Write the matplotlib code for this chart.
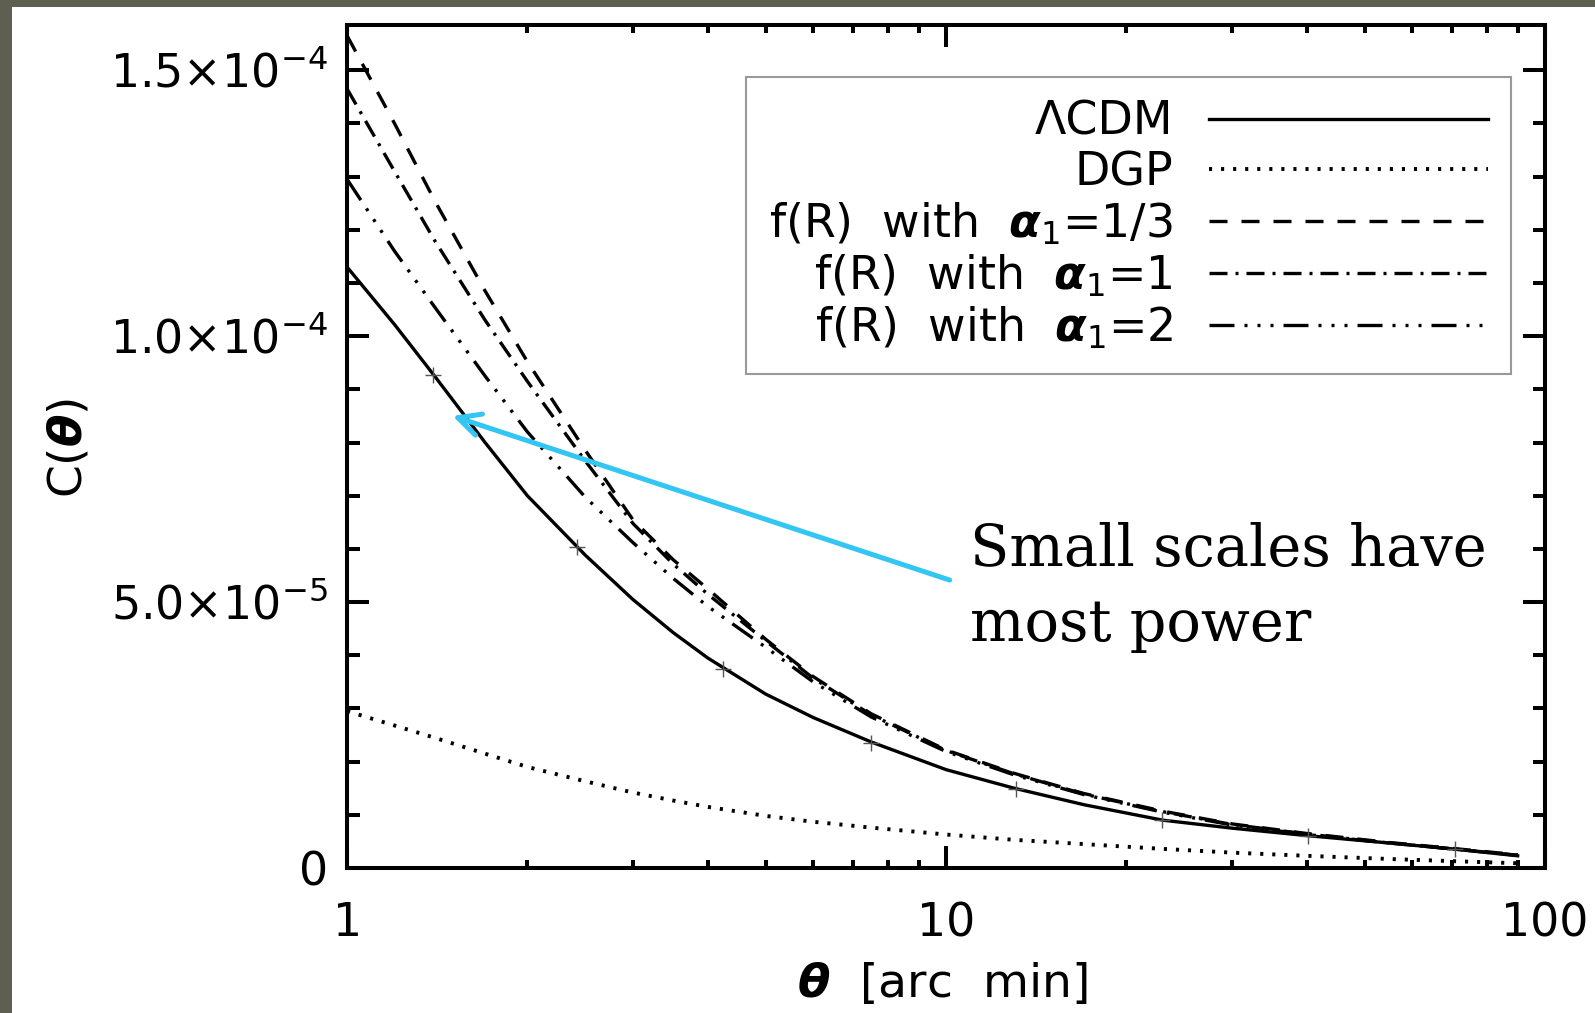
"""------------------------------------------------------------------------------------------------------------
Funcion de correlacion C(theta): LCDM, DGP y f(R)
------------------------------------------------------------------------------------------------------------"""
# Import ------------------------------------------------------------------------------------------------------
import numpy as np
import matplotlib
matplotlib.use("Agg")
import matplotlib.pyplot as plt
from matplotlib.patches import Rectangle
from matplotlib.ticker import MultipleLocator, LogLocator, NullFormatter

# Datos (C en unidades de 1e-4) -------------------------------------------------------------------------------
theta = [1, 1.2, 1.4, 1.7, 2, 2.5, 3, 3.5, 4, 5, 6, 7.5, 10, 13, 17, 23, 30, 40, 55, 70, 90]
c_lcdm = [1.130, 1.022, 0.925, 0.800, 0.700, 0.588, 0.505, 0.443, 0.395, 0.327, 0.283, 0.237,
          0.185, 0.150, 0.119, 0.090, 0.075, 0.061, 0.047, 0.036, 0.023]
c_dgp = [0.295, 0.268, 0.245, 0.215, 0.190, 0.163, 0.142, 0.127, 0.115, 0.098, 0.087, 0.076,
         0.063, 0.053, 0.045, 0.036, 0.029, 0.023, 0.017, 0.013, 0.009]
c_fr13 = [1.565, 1.400, 1.255, 1.085, 0.952, 0.785, 0.655, 0.580, 0.525, 0.430, 0.360, 0.290,
          0.222, 0.178, 0.140, 0.107, 0.083, 0.065, 0.048, 0.037, 0.025]
c_fr1 = [1.465, 1.310, 1.180, 1.030, 0.915, 0.765, 0.648, 0.572, 0.515, 0.427, 0.357, 0.288,
         0.221, 0.177, 0.139, 0.106, 0.082, 0.064, 0.047, 0.036, 0.024]
c_fr2 = [1.295, 1.160, 1.055, 0.925, 0.820, 0.697, 0.612, 0.545, 0.492, 0.415, 0.350, 0.284,
         0.219, 0.175, 0.138, 0.105, 0.081, 0.063, 0.047, 0.036, 0.024]
# puntos '+' sobre LCDM
theta_pts = [1.39, 2.42, 4.24, 7.49, 13.1, 22.9, 40.2, 70.8]
c_pts = [0.927, 0.604, 0.375, 0.235, 0.149, 0.090, 0.061, 0.036]

labels = ['ΛCDM', 'DGP',
          r'f(R)  with  $\mathbf{\alpha}_1$=1/3',
          r'f(R)  with  $\mathbf{\alpha}_1$=1',
          r'f(R)  with  $\mathbf{\alpha}_1$=2']
ytick_vals = [0, 5e-5, 1e-4, 1.5e-4]
ytick_labels = ['0', r'$5.0{\times}10^{-5}$', r'$1.0{\times}10^{-4}$', r'$1.5{\times}10^{-4}$']
xtick_vals = [1, 10, 100]
xtick_labels = ['1', '10', '100']

# Estilo ------------------------------------------------------------------------------------------------------
plt.rcParams['font.family'] = ['DejaVu Sans']
plt.rcParams['mathtext.fontset'] = 'custom'
plt.rcParams['mathtext.rm'] = 'DejaVu Sans'
plt.rcParams['mathtext.it'] = 'DejaVu Sans:italic'
plt.rcParams['mathtext.bf'] = 'DejaVu Sans:bold:italic'

LW = 2.4
LW_EJE = 2.9


def main():
    fig = plt.figure(figsize=(15.95, 10.13), dpi=100)
    fig.patch.set_facecolor('#5e5f50')
    fig.add_artist(Rectangle((12 / 1595, 0), 1, 1 - 7 / 1013, transform=fig.transFigure,
                             facecolor='white', edgecolor='none', zorder=-5))
    ax = fig.add_axes([0.2176, 0.1431, 0.7511, 0.8322])

    th = np.array(theta)
    escala = 1e-4
    l1, = ax.plot(th, np.array(c_lcdm) * escala, color='black', lw=LW, ls='-')
    l2, = ax.plot(th, np.array(c_dgp) * escala, color='black', lw=2.8, ls=(0, (0.8, 2.3)))
    l3, = ax.plot(th, np.array(c_fr13) * escala, color='black', lw=LW, ls=(0, (5.4, 4.2)))
    l4, = ax.plot(th, np.array(c_fr1) * escala, color='black', lw=LW, ls=(0, (5.4, 2.4, 0.9, 2.4)))
    l5, = ax.plot(th, np.array(c_fr2) * escala, color='black', lw=LW,
                  ls=(0, (7.5, 3, 0.9, 3, 0.9, 3, 0.9, 3)))
    ax.plot(theta_pts, np.array(c_pts) * escala, ls='none', marker='+', ms=11, mew=1.0,
            color='#555555')

    # ejes
    ax.set_xscale('log')
    ax.set_xlim(1, 100)
    ax.set_ylim(0, 1.585e-4)
    ax.set_xticks(xtick_vals)
    ax.set_xticklabels(xtick_labels)
    ax.xaxis.set_minor_locator(LogLocator(base=10, subs=np.arange(2, 10)))
    ax.xaxis.set_minor_formatter(NullFormatter())
    ax.set_yticks(ytick_vals)
    ax.set_yticklabels(ytick_labels)
    ax.yaxis.set_minor_locator(MultipleLocator(1e-5))
    for s in ax.spines.values():
        s.set_linewidth(LW_EJE)
    ax.tick_params(which='both', direction='in', top=True, right=True, width=LW_EJE)
    ax.tick_params(which='major', length=16, labelsize=33)
    ax.tick_params(axis='y', which='major', pad=14)
    ax.tick_params(axis='x', which='major', pad=24)
    ax.yaxis.set_tick_params(which='minor', length=9)
    ax.xaxis.set_tick_params(which='minor', length=6)

    ax.set_xlabel(r'$\mathbf{\theta}$  [arc  min]', fontsize=34)
    ax.xaxis.set_label_coords(0.497, -0.110)
    ax.set_ylabel(r'C($\mathbf{\theta}$)', fontsize=34)
    ax.yaxis.set_label_coords(-0.213, 0.498)

    leg = ax.legend([l1, l2, l3, l4, l5], labels, loc='upper right',
                    bbox_to_anchor=(0.9716, 0.9383), borderaxespad=0, markerfirst=False,
                    fontsize=33, handlelength=6.1, handletextpad=0.78, labelspacing=0.12,
                    borderpad=0.5, fancybox=False, framealpha=1)
    leg.get_frame().set_edgecolor('#999999')
    leg.get_frame().set_linewidth(1.5)

    # anotacion
    ax.annotate('', xy=(1.5, 0.85e-4), xycoords='data', xytext=(0.503, 0.3416),
                textcoords='axes fraction',
                arrowprops=dict(arrowstyle='->', color='#33c5f3', lw=3.6, mutation_scale=40,
                                shrinkA=0, shrinkB=0))
    ax.text(0.5196, 0.2693, 'Small scales have\nmost power', transform=ax.transAxes,
            fontsize=41.3, family='DejaVu Serif', va='baseline', ha='left', linespacing=1.43)

    fig.savefig('out.png', dpi=100, facecolor=fig.get_facecolor())
    return None


if __name__ == '__main__':
    main()
